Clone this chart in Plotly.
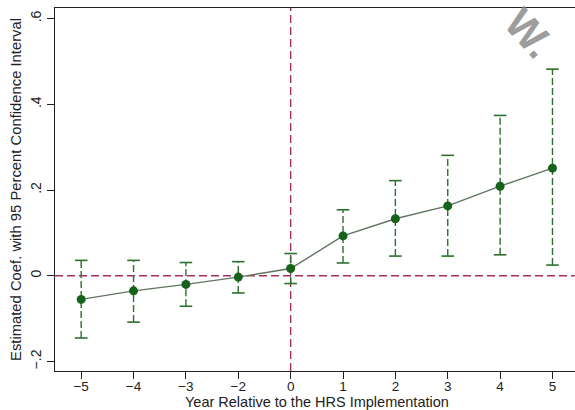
import plotly.graph_objects as go

# Data
years = ["\u22125", "\u22124", "\u22123", "\u22122", "0", "1", "2", "3", "4", "5"]
coef = [-0.055, -0.035, -0.020, -0.003, 0.017, 0.093, 0.133, 0.163, 0.209, 0.251]
ci_upper = [0.036, 0.036, 0.031, 0.033, 0.052, 0.154, 0.222, 0.281, 0.374, 0.482]
ci_lower = [-0.145, -0.108, -0.071, -0.040, -0.018, 0.030, 0.046, 0.046, 0.049, 0.025]
ytick_vals = [-0.2, 0, 0.2, 0.4, 0.6]
ytick_text = ["\u2212.2", "0", ".2", ".4", ".6"]
ref_year = "0"

FONT = "Liberation Sans, Arial, sans-serif"
GREEN = "#17621a"
CI_GREEN = "#2d6f2d"
RED = "#a8305c"

fig = go.Figure()

# CI dashed segments
ci_x, ci_y = [], []
for x, lo, hi in zip(years, ci_lower, ci_upper):
    ci_x += [x, x, None]
    ci_y += [lo, hi, None]
fig.add_trace(go.Scatter(x=ci_x, y=ci_y, mode="lines",
                         line=dict(color=CI_GREEN, width=1.4, dash="7px,3px"),
                         hoverinfo="skip", showlegend=False))
# caps
fig.add_trace(go.Scatter(x=years + years, y=ci_upper + ci_lower, mode="markers",
                         marker=dict(symbol="line-ew", size=9,
                                     line=dict(color=CI_GREEN, width=1.6)),
                         showlegend=False))
# point estimates
fig.add_trace(go.Scatter(x=years, y=coef, mode="lines+markers",
                         line=dict(color="#607560", width=1.4),
                         marker=dict(color=GREEN, size=9),
                         showlegend=False))

fig.add_shape(type="line", xref="paper", yref="y", x0=0, x1=1, y0=0, y1=0,
              line=dict(color=RED, width=1.4, dash="8px,4px"), layer="below")
fig.add_shape(type="line", xref="x", yref="paper",
              x0=years.index(ref_year), x1=years.index(ref_year), y0=0, y1=1,
              line=dict(color=RED, width=1.4, dash="8px,4px"), layer="below")

# watermark
fig.add_annotation(text="<b>W.</b>", xref="paper", yref="paper", x=0.913, y=0.93,
                   xanchor="center", yanchor="middle",
                   showarrow=False, textangle=48,
                   font=dict(family=FONT, size=42, color="#8c8c8c"), opacity=0.85)

# x-axis title
fig.add_annotation(text="Year Relative to the HRS Implementation",
                   xref="paper", yref="paper", x=0.504, y=-0.086,
                   xanchor="center", yanchor="middle", showarrow=False,
                   font=dict(family=FONT, size=14.5, color="#222222"))

fig.update_layout(
    width=575, height=410,
    margin=dict(l=55, r=0, t=8, b=39),
    paper_bgcolor="white", plot_bgcolor="white",
    font=dict(family=FONT, size=14, color="#222222"),
    xaxis=dict(type="category", categoryorder="array", categoryarray=years,
               range=[-0.5, 9.43], showgrid=False, zeroline=False,
               showline=True, linecolor="#222222", linewidth=1.2, mirror=True,
               ticks="outside", ticklen=7, tickcolor="#222222",
               tickfont=dict(size=13.5), ticklabelstandoff=-4),
    yaxis=dict(range=[-0.222, 0.6246], tickvals=ytick_vals, ticktext=ytick_text,
               tickangle=-90, showgrid=False, zeroline=False,
               showline=True, linecolor="#222222", linewidth=1.2,
               ticks="outside", ticklen=7, tickcolor="#222222",
               tickfont=dict(size=14),
               title=dict(text="Estimated Coef. with 95 Percent Confidence Interval",
                          font=dict(size=14.8), standoff=3)),
)

fig.write_html("out.html")
